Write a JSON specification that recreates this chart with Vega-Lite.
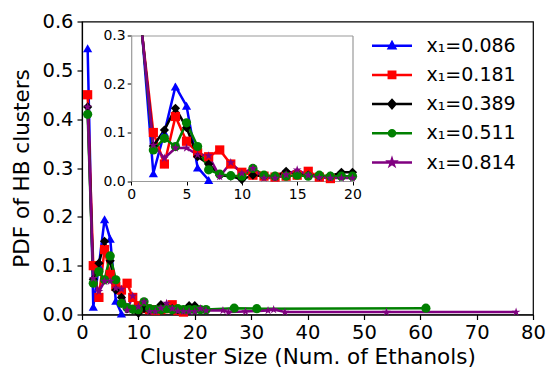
{
  "$schema": "https://vega.github.io/schema/vega-lite/v6.json",
  "width": 451,
  "height": 293,
  "autosize": "none",
  "padding": {"left": 82, "top": 21.5, "right": 14, "bottom": 55.5},
  "background": "white",
  "config": {
    "view": {"stroke": "black", "strokeWidth": 1.2},
    "font": "DejaVu Sans",
    "axis": {"grid": false, "domainColor": "black", "tickColor": "black", "labelColor": "black", "titleColor": "black", "titleFontWeight": "normal", "labelFlush": false, "labelOverlap": false, "labelBound": false, "domainWidth": 1.2, "tickWidth": 1.2, "labelFont": "DejaVu Sans", "titleFont": "DejaVu Sans"}
  },
  "datasets": {
    "pdf": [
      {"x1": "0.086", "cluster": 1, "pdf": 0.545},
      {"x1": "0.086", "cluster": 2, "pdf": 0.016},
      {"x1": "0.086", "cluster": 3, "pdf": 0.10},
      {"x1": "0.086", "cluster": 4, "pdf": 0.195},
      {"x1": "0.086", "cluster": 5, "pdf": 0.155},
      {"x1": "0.086", "cluster": 6, "pdf": 0.028},
      {"x1": "0.086", "cluster": 7, "pdf": 0.002},
      {"x1": "0.181", "cluster": 1, "pdf": 0.45},
      {"x1": "0.181", "cluster": 2, "pdf": 0.10},
      {"x1": "0.181", "cluster": 3, "pdf": 0.035},
      {"x1": "0.181", "cluster": 4, "pdf": 0.133},
      {"x1": "0.181", "cluster": 5, "pdf": 0.082},
      {"x1": "0.181", "cluster": 6, "pdf": 0.058},
      {"x1": "0.181", "cluster": 7, "pdf": 0.05},
      {"x1": "0.181", "cluster": 8, "pdf": 0.064},
      {"x1": "0.181", "cluster": 9, "pdf": 0.035},
      {"x1": "0.181", "cluster": 10, "pdf": 0.018},
      {"x1": "0.181", "cluster": 11, "pdf": 0.012},
      {"x1": "0.181", "cluster": 12, "pdf": 0.01},
      {"x1": "0.181", "cluster": 13, "pdf": 0.008},
      {"x1": "0.181", "cluster": 14, "pdf": 0.01},
      {"x1": "0.181", "cluster": 15, "pdf": 0.012},
      {"x1": "0.181", "cluster": 16, "pdf": 0.02},
      {"x1": "0.181", "cluster": 17, "pdf": 0.008},
      {"x1": "0.181", "cluster": 18, "pdf": 0.005},
      {"x1": "0.389", "cluster": 1, "pdf": 0.425},
      {"x1": "0.389", "cluster": 2, "pdf": 0.072},
      {"x1": "0.389", "cluster": 3, "pdf": 0.105},
      {"x1": "0.389", "cluster": 4, "pdf": 0.15},
      {"x1": "0.389", "cluster": 5, "pdf": 0.11},
      {"x1": "0.389", "cluster": 6, "pdf": 0.05},
      {"x1": "0.389", "cluster": 7, "pdf": 0.035},
      {"x1": "0.389", "cluster": 8, "pdf": 0.012},
      {"x1": "0.389", "cluster": 9, "pdf": 0.01},
      {"x1": "0.389", "cluster": 10, "pdf": 0.003},
      {"x1": "0.389", "cluster": 11, "pdf": 0.012},
      {"x1": "0.389", "cluster": 12, "pdf": 0.01},
      {"x1": "0.389", "cluster": 13, "pdf": 0.01},
      {"x1": "0.389", "cluster": 14, "pdf": 0.02},
      {"x1": "0.389", "cluster": 15, "pdf": 0.015},
      {"x1": "0.389", "cluster": 16, "pdf": 0.012},
      {"x1": "0.389", "cluster": 17, "pdf": 0.01},
      {"x1": "0.389", "cluster": 18, "pdf": 0.01},
      {"x1": "0.389", "cluster": 19, "pdf": 0.018},
      {"x1": "0.389", "cluster": 20, "pdf": 0.018},
      {"x1": "0.511", "cluster": 1, "pdf": 0.41},
      {"x1": "0.511", "cluster": 2, "pdf": 0.064},
      {"x1": "0.511", "cluster": 3, "pdf": 0.088},
      {"x1": "0.511", "cluster": 4, "pdf": 0.071},
      {"x1": "0.511", "cluster": 5, "pdf": 0.12},
      {"x1": "0.511", "cluster": 6, "pdf": 0.071},
      {"x1": "0.511", "cluster": 7, "pdf": 0.023},
      {"x1": "0.511", "cluster": 8, "pdf": 0.014},
      {"x1": "0.511", "cluster": 9, "pdf": 0.011},
      {"x1": "0.511", "cluster": 10, "pdf": 0.01},
      {"x1": "0.511", "cluster": 11, "pdf": 0.026},
      {"x1": "0.511", "cluster": 12, "pdf": 0.012},
      {"x1": "0.511", "cluster": 13, "pdf": 0.01},
      {"x1": "0.511", "cluster": 14, "pdf": 0.01},
      {"x1": "0.511", "cluster": 15, "pdf": 0.012},
      {"x1": "0.511", "cluster": 16, "pdf": 0.01},
      {"x1": "0.511", "cluster": 17, "pdf": 0.012},
      {"x1": "0.511", "cluster": 18, "pdf": 0.01},
      {"x1": "0.511", "cluster": 19, "pdf": 0.01},
      {"x1": "0.511", "cluster": 20, "pdf": 0.01},
      {"x1": "0.511", "cluster": 21, "pdf": 0.01},
      {"x1": "0.511", "cluster": 22, "pdf": 0.01},
      {"x1": "0.511", "cluster": 27, "pdf": 0.013},
      {"x1": "0.511", "cluster": 31, "pdf": 0.012},
      {"x1": "0.511", "cluster": 61, "pdf": 0.013},
      {"x1": "0.814", "cluster": 1, "pdf": 0.425},
      {"x1": "0.814", "cluster": 2, "pdf": 0.074},
      {"x1": "0.814", "cluster": 3, "pdf": 0.047},
      {"x1": "0.814", "cluster": 4, "pdf": 0.068},
      {"x1": "0.814", "cluster": 5, "pdf": 0.068},
      {"x1": "0.814", "cluster": 6, "pdf": 0.054},
      {"x1": "0.814", "cluster": 7, "pdf": 0.052},
      {"x1": "0.814", "cluster": 8, "pdf": 0.009},
      {"x1": "0.814", "cluster": 9, "pdf": 0.038},
      {"x1": "0.814", "cluster": 10, "pdf": 0.016},
      {"x1": "0.814", "cluster": 11, "pdf": 0.026},
      {"x1": "0.814", "cluster": 12, "pdf": 0.006},
      {"x1": "0.814", "cluster": 13, "pdf": 0.006},
      {"x1": "0.814", "cluster": 14, "pdf": 0.013},
      {"x1": "0.814", "cluster": 15, "pdf": 0.023},
      {"x1": "0.814", "cluster": 16, "pdf": 0.012},
      {"x1": "0.814", "cluster": 17, "pdf": 0.007},
      {"x1": "0.814", "cluster": 18, "pdf": 0.006},
      {"x1": "0.814", "cluster": 19, "pdf": 0.006},
      {"x1": "0.814", "cluster": 20, "pdf": 0.006},
      {"x1": "0.814", "cluster": 21, "pdf": 0.012},
      {"x1": "0.814", "cluster": 22, "pdf": 0.008},
      {"x1": "0.814", "cluster": 25, "pdf": 0.008},
      {"x1": "0.814", "cluster": 26, "pdf": 0.005},
      {"x1": "0.814", "cluster": 29, "pdf": 0.006},
      {"x1": "0.814", "cluster": 33, "pdf": 0.008},
      {"x1": "0.814", "cluster": 34, "pdf": 0.01},
      {"x1": "0.814", "cluster": 36, "pdf": 0.005},
      {"x1": "0.814", "cluster": 54, "pdf": 0.005},
      {"x1": "0.814", "cluster": 77, "pdf": 0.005}
    ]
  },
  "layer": [
    {
      "data": {"name": "pdf"},
      "layer": [
        {
          "mark": {"type": "line", "strokeWidth": 2.5},
          "encoding": {
            "x": {"field": "cluster", "type": "quantitative", "scale": {"domain": [0, 80], "nice": false},
              "axis": {"orient": "bottom", "values": [0, 10, 20, 30, 40, 50, 60, 70, 80], "title": "Cluster Size (Num. of Ethanols)", "labelFontSize": 19.5, "titleFontSize": 21.5, "tickSize": 5, "labelPadding": 4, "titlePadding": 4}},
            "y": {"field": "pdf", "type": "quantitative", "scale": {"domain": [0, 0.6], "nice": false},
              "axis": {"orient": "left", "values": [0, 0.1, 0.2, 0.3, 0.4, 0.5, 0.6], "format": ".1f", "title": "PDF of HB clusters", "labelFontSize": 19.5, "titleFontSize": 21.5, "tickSize": 5, "labelPadding": 4, "titlePadding": 8}},
            "color": {"field": "x1", "type": "nominal", "scale": {"domain": ["0.086", "0.181", "0.389", "0.511", "0.814"], "range": ["#0000ff", "#ff0000", "#000000", "#008000", "#800080"]}, "legend": null}
          }
        },
        {
          "mark": {"type": "point", "filled": true, "opacity": 1, "size": 85},
          "encoding": {
            "x": {"field": "cluster", "type": "quantitative"},
            "y": {"field": "pdf", "type": "quantitative"},
            "color": {"field": "x1", "type": "nominal", "legend": null},
            "shape": {"field": "x1", "type": "nominal", "scale": {"domain": ["0.086", "0.181", "0.389", "0.511", "0.814"], "range": ["triangle-up", "square", "diamond", "circle", "M0,-1L0.225,-0.309L0.951,-0.309L0.363,0.118L0.588,0.809L0,0.382L-0.588,0.809L-0.363,0.118L-0.951,-0.309L-0.225,-0.309Z"]}, "legend": null}
          }
        },
        {
          "data": {"values": []},
          "mark": {"type": "point", "opacity": 1, "strokeWidth": 2.5},
          "encoding": {
            "fill": {"field": "x1", "type": "nominal", "scale": {"domain": ["0.086", "0.181", "0.389", "0.511", "0.814"], "range": ["#0000ff", "#ff0000", "#000000", "#008000", "#800080"]},
              "legend": {"orient": "none", "legendX": 290, "legendY": 12.7, "title": null, "symbolSize": 400, "symbolStrokeWidth": 2.5, "symbolOffset": 8.5, "labelOffset": 23, "labelFontSize": 19, "labelFont": "DejaVu Sans", "labelColor": "black", "rowPadding": 7.2, "padding": 0, "labelExpr": "'x₁=' + datum.label"}},
            "stroke": {"field": "x1", "type": "nominal", "scale": {"domain": ["0.086", "0.181", "0.389", "0.511", "0.814"], "range": ["#0000ff", "#ff0000", "#000000", "#008000", "#800080"]},
              "legend": {"orient": "none", "legendX": 290, "legendY": 12.7, "title": null, "symbolSize": 400, "symbolStrokeWidth": 2.5, "symbolOffset": 8.5, "labelOffset": 23, "labelFontSize": 19, "labelFont": "DejaVu Sans", "labelColor": "black", "rowPadding": 7.2, "padding": 0, "labelExpr": "'x₁=' + datum.label"}},
            "shape": {"field": "x1", "type": "nominal", "scale": {"domain": ["0.086", "0.181", "0.389", "0.511", "0.814"], "range": [
                "M-2,0L2,0M0,-0.34L0.32,0.26L-0.32,0.26Z",
                "M-2,0L2,0M-0.32,-0.32L0.32,-0.32L0.32,0.32L-0.32,0.32Z",
                "M-2,0L2,0M0,-0.4L0.35,0L0,0.4L-0.35,0Z",
                "M-2,0L2,0M0.3,0A0.3,0.3 0 1,1 -0.3,0A0.3,0.3 0 1,1 0.3,0Z",
                "M-2,0L2,0M0,-0.32L0.072,-0.099L0.304,-0.099L0.116,0.038L0.188,0.259L0,0.122L-0.188,0.259L-0.116,0.038L-0.304,-0.099L-0.072,-0.099Z"]},
              "legend": {"orient": "none", "legendX": 290, "legendY": 12.7, "title": null, "symbolSize": 400, "symbolStrokeWidth": 2.5, "symbolOffset": 8.5, "labelOffset": 23, "labelFontSize": 19, "labelFont": "DejaVu Sans", "labelColor": "black", "rowPadding": 7.2, "padding": 0, "labelExpr": "'x₁=' + datum.label"}}
          }
        }
      ],
      "resolve": {"scale": {"shape": "independent", "fill": "independent", "stroke": "independent"}}
    },
    {
      "data": {"name": "pdf"},
      "transform": [{"filter": "datum.cluster <= 20"}],
      "layer": [
        {
          "mark": {"type": "line", "strokeWidth": 2.5},
          "encoding": {
            "x": {"field": "cluster", "type": "quantitative", "scale": {"domain": [0, 20], "range": [49.2, 270.5], "nice": false},
              "axis": {"orient": "bottom", "offset": -133.5, "values": [0, 5, 10, 15, 20], "title": null, "labelFontSize": 14, "tickSize": 4, "labelPadding": 2, "domainColor": "#999999", "tickWidth": 1}},
            "y": {"field": "pdf", "type": "quantitative", "scale": {"domain": [0, 0.3], "range": [159.5, 14], "nice": false, "clamp": true},
              "axis": {"orient": "left", "offset": -49.2, "values": [0, 0.1, 0.2, 0.3], "format": ".1f", "title": null, "labelFontSize": 14, "tickSize": 4, "labelPadding": 2, "domainColor": "#999999", "tickWidth": 1}},
            "color": {"field": "x1", "type": "nominal", "legend": null}
          }
        },
        {
          "transform": [{"filter": "datum.pdf <= 0.3"}],
          "mark": {"type": "point", "filled": true, "opacity": 1, "size": 85},
          "encoding": {
            "x": {"field": "cluster", "type": "quantitative",
              "axis": {"orient": "top", "offset": -14, "labels": false, "ticks": false, "title": null, "domainColor": "#999999"}},
            "y": {"field": "pdf", "type": "quantitative",
              "axis": {"orient": "right", "offset": -180.5, "labels": false, "ticks": false, "title": null, "domainColor": "#999999"}},
            "color": {"field": "x1", "type": "nominal", "legend": null},
            "shape": {"field": "x1", "type": "nominal", "scale": {"domain": ["0.086", "0.181", "0.389", "0.511", "0.814"], "range": ["triangle-up", "square", "diamond", "circle", "M0,-1L0.225,-0.309L0.951,-0.309L0.363,0.118L0.588,0.809L0,0.382L-0.588,0.809L-0.363,0.118L-0.951,-0.309L-0.225,-0.309Z"]}, "legend": null}
          }
        }
      ],
      "resolve": {"axis": {"x": "independent", "y": "independent"}}
    }
  ],
  "resolve": {"scale": {"x": "independent", "y": "independent", "shape": "independent"}}
}
